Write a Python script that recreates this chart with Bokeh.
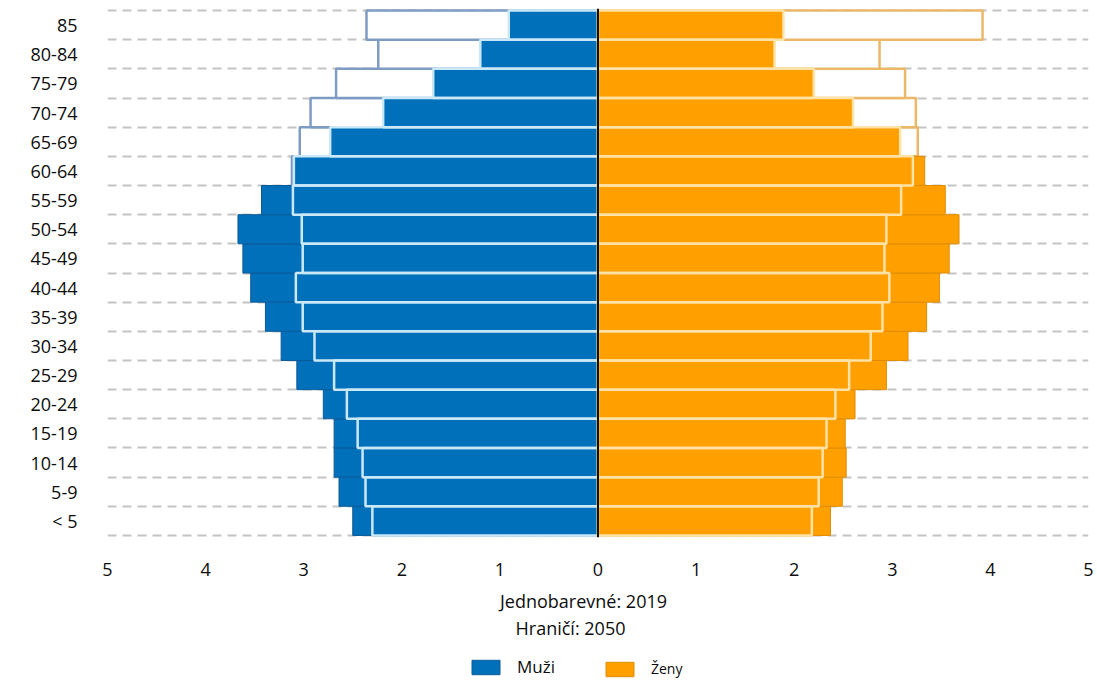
from bokeh.plotting import figure
from bokeh.models import Range1d, FixedTicker, Span, Legend, LegendItem
from bokeh.layouts import column
from bokeh.core.properties import value
from bokeh.embed import file_html
from bokeh.resources import INLINE

# ---- data (values in %) ----
age_groups = ["< 5", "5-9", "10-14", "15-19", "20-24", "25-29", "30-34", "35-39",
              "40-44", "45-49", "50-54", "55-59", "60-64", "65-69", "70-74",
              "75-79", "80-84", "85"]
men_2019 = [2.50, 2.64, 2.69, 2.69, 2.80, 3.07, 3.23, 3.39, 3.54, 3.62, 3.67, 3.43,
            3.10, 2.73, 2.19, 1.68, 1.20, 0.91]
men_2050 = [2.30, 2.37, 2.40, 2.45, 2.56, 2.69, 2.89, 3.01, 3.08, 3.01, 3.02, 3.11,
            3.12, 3.04, 2.93, 2.67, 2.24, 2.36]
women_2019 = [2.37, 2.49, 2.53, 2.52, 2.62, 2.94, 3.16, 3.35, 3.48, 3.58, 3.68, 3.54,
              3.33, 3.08, 2.60, 2.20, 1.80, 1.89]
women_2050 = [2.18, 2.25, 2.29, 2.33, 2.42, 2.56, 2.78, 2.90, 2.97, 2.92, 2.94, 3.09,
              3.21, 3.26, 3.24, 3.13, 2.87, 3.92]
x_ticks = [-5, -4, -3, -2, -1, 0, 1, 2, 3, 4, 5]
x_tick_labels = ["5", "4", "3", "2", "1", "0", "1", "2", "3", "4", "5"]
caption_lines = ["Jednobarevné: 2019", "Hraničí: 2050"]
legend_labels = ["Muži", "Ženy"]

FONT = "Open Sans"
TEXT = "#0D0D0D"
BLUE = "#0070BB"
BLUE_EDGE = "#0B5A98"
BLUE_OUT = "#7E9CC3"
BLUE_LIGHT = "#CBE8F8"
ORANGE = "#FF9F00"
ORANGE_EDGE = "#E08C00"
ORANGE_OUT = "#EBB86A"
ORANGE_LIGHT = "#FFE2A6"

n = len(age_groups)
ypos = [i + 0.5 for i in range(n)]

W = 1096
H1 = 585
H2 = 94
FL, FR = 107, 1088          # frame left / right in page pixels
PAD = 0.07

p = figure(width=W, height=H1, x_range=Range1d(-5, 5),
           y_range=Range1d(-PAD, n + PAD),
           output_backend="svg", toolbar_location=None,
           min_border_left=FL, min_border_right=W - FR, min_border_top=8,
           min_border_bottom=48)
p.outline_line_color = None

# grid: dashed lines at category boundaries
p.xgrid.visible = False
p.ygrid.ticker = FixedTicker(ticks=list(range(n + 1)))
p.ygrid.grid_line_color = "#C4C4C4"
p.ygrid.grid_line_dash = "9 6"
p.ygrid.grid_line_width = 2

# men
m50_left = [-v for v in men_2050]
m19_left = [-v for v in men_2019]
m_in_left = [-min(a, b) for a, b in zip(men_2019, men_2050)]
p.hbar(y=ypos, left=m50_left, right=0, height=1, fill_color="white",
       line_color=BLUE_OUT, line_width=2.5)
p.hbar(y=ypos, left=m19_left, right=0, height=1, fill_color=BLUE,
       line_color=BLUE_EDGE, line_width=1)
p.hbar(y=ypos, left=m_in_left, right=0, height=1, fill_color=None,
       line_color=BLUE_LIGHT, line_width=2.5)

# women
w_in_right = [min(a, b) for a, b in zip(women_2019, women_2050)]
p.hbar(y=ypos, left=0, right=women_2050, height=1, fill_color="white",
       line_color=ORANGE_OUT, line_width=2.5)
p.hbar(y=ypos, left=0, right=women_2019, height=1, fill_color=ORANGE,
       line_color=ORANGE_EDGE, line_width=1)
p.hbar(y=ypos, left=0, right=w_in_right, height=1, fill_color=None,
       line_color=ORANGE_LIGHT, line_width=2.5)

p.add_layout(Span(location=0, dimension="height", line_color="#111111",
                  line_width=2, level="overlay"))

# axes
p.xaxis.ticker = FixedTicker(ticks=x_ticks)
p.xaxis.major_label_overrides = {t: l for t, l in zip(x_ticks, x_tick_labels)}
p.yaxis.ticker = FixedTicker(ticks=ypos)
p.yaxis.major_label_overrides = {y: l for y, l in zip(ypos, age_groups)}
for ax in (p.xaxis, p.yaxis):
    ax.axis_line_color = None
    ax.major_tick_line_color = None
    ax.minor_tick_line_color = None
    ax.major_label_text_font = FONT
    ax.major_label_text_font_size = "18px"
    ax.major_label_text_color = TEXT
p.xaxis.major_label_standoff = 19
p.yaxis.major_label_standoff = 24

# ---- caption + legend area (x in page pixels; frame aligned with the chart) ----
p2 = figure(width=W, height=H2, x_range=Range1d(FL, FR), y_range=Range1d(0, H2),
            output_backend="svg", toolbar_location=None,
            x_axis_location=None, y_axis_location=None,
            min_border_left=FL, min_border_right=W - FR,
            min_border_top=0, min_border_bottom=0)
p2.outline_line_color = None
p2.grid.visible = False

p2.text(x=[583, 570], y=[H2 - 15, H2 - 42], text=caption_lines,
        text_align="center", text_baseline="middle",
        text_font=value(FONT), text_font_size="18px", text_color=TEXT)

# legend keys (renderers kept outside the visible area; only their legend swatches show)
men_key = p2.hbar(y=[-1000], left=[0], right=[1], height=1, fill_color=BLUE,
                  line_color=BLUE_EDGE, line_width=1)
women_key = p2.hbar(y=[-1000], left=[0], right=[1], height=1, fill_color=ORANGE,
                    line_color=ORANGE_EDGE, line_width=1)
common = dict(orientation="horizontal", glyph_width=35, glyph_height=18,
              label_standoff=14, padding=0, margin=0, border_line_color=None,
              background_fill_alpha=0, label_text_font=FONT,
              label_text_color=TEXT, label_height=18)
legend_m = Legend(items=[LegendItem(label=legend_labels[0], renderers=[men_key])],
                  location=(468 - FL, 1), label_text_font_size="17px", **common)
legend_w = Legend(items=[LegendItem(label=legend_labels[1], renderers=[women_key])],
                  location=(602 - FL, 1), label_text_font_size="14px", **common)
p2.add_layout(legend_m)
p2.add_layout(legend_w)

layout = column(p, p2, spacing=0)
open("out.html", "w").write(file_html(layout, INLINE))
